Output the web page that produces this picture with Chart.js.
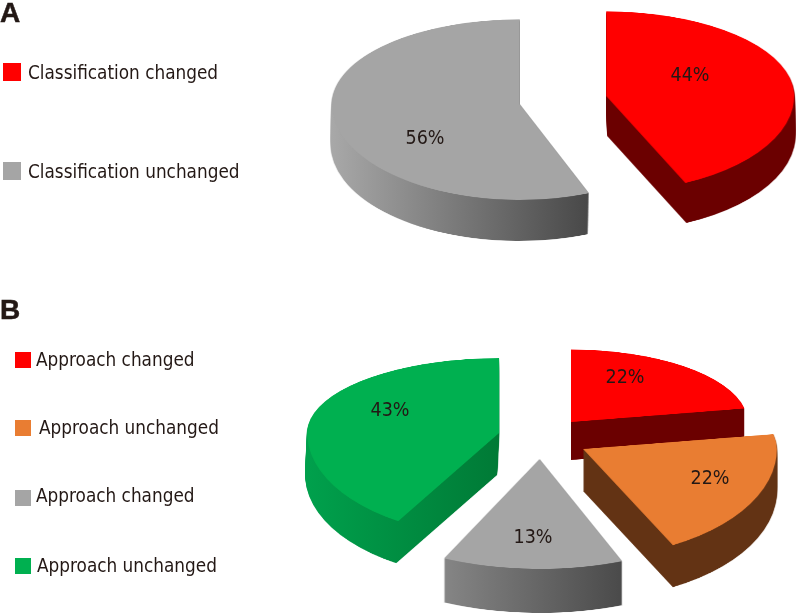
<!DOCTYPE html>
<html>
<head>
<meta charset="utf-8">
<script src="https://cdn.jsdelivr.net/npm/chart.js@4/dist/chart.umd.min.js"></script>
<style>
  html, body { margin: 0; padding: 0; background: #fff; }
  #page { position: relative; width: 800px; height: 614px; overflow: hidden; color: #231815; }
  canvas { position: absolute; left: 0; }
  .panel { position: absolute; font: bold 28px "Liberation Sans", sans-serif; line-height: 28px; -webkit-text-stroke: 0.5px #231815; }
  .swatch { position: absolute; }
  .lbl { position: absolute; white-space: nowrap; font: 18.8px "DejaVu Sans Condensed", "DejaVu Sans", sans-serif; line-height: 22px; }
</style>
</head>
<body>
<div id="page">
  <canvas id="pieA"></canvas>
  <canvas id="pieB"></canvas>
</div>
<script>
// data, chart A
const labelsA = ['Classification changed', 'Classification unchanged'];
const valuesA = [44, 56];
const colorsA = ['#ff0000', '#a5a5a5'];
const wallsA  = [['#6b0000', '#6b0000'], ['#a8a8a8', '#484848']];

// data, chart B
const labelsB = ['Approach changed', 'Approach unchanged', 'Approach changed', 'Approach unchanged'];
const valuesB = [22, 22, 13, 43];
const colorsB = ['#ff0000', '#e97d32', '#a5a5a5', '#00b050'];
const wallsB  = [['#6b0000', '#6b0000'], ['#633314', '#633314'], ['#848484', '#4a4a4a'], ['#00a04c', '#007a36']];

function offscreen(w, h) {
  const c = document.createElement('canvas');
  c.width = w;
  c.height = h;
  return c;
}

// each arc element is drawn flat on a scratch canvas, then squashed
// (back half and front half separately) and pushed down to make the side wall
const pie3d = {
  id: 'pie3d',
  beforeDatasetsDraw(chart, args, o) {
    const ctx = chart.ctx;
    const arcs = chart.getDatasetMeta(0).data;
    const W = chart.width, H = chart.height;

    o.order.forEach(function(i) {
      const arc = arcs[i];
      const s = o.scale[i];
      const r = arc.outerRadius * s;
      const R = Math.ceil(r) + 2;
      const mid = (arc.startAngle + arc.endAngle) / 2;
      const tb = o.tiltBack[i], tf = o.tiltFront[i];

      // the tilted view pulls the front edges a little off their true angle
      const start0 = arc.startAngle, end0 = arc.endAngle, circ0 = arc.circumference;
      arc.startAngle = start0 + o.edgeTweak[i][0] * Math.PI / 180;
      arc.endAngle = end0 + o.edgeTweak[i][1] * Math.PI / 180;
      arc.circumference = arc.endAngle - arc.startAngle;
      const flat = offscreen(2 * R, 2 * R);
      const fctx = flat.getContext('2d');
      fctx.translate(R, R);
      fctx.scale(s, s);
      fctx.translate(-arc.x, -arc.y);
      arc.draw(fctx);

      const dirY = Math.sin(mid);
      const ax = arc.x + Math.cos(mid) * o.explode[i];
      const ay = Math.round(arc.y + dirY * o.explode[i] * (dirY < 0 ? o.spread[0] : o.spread[1]));

      // top face
      const face = offscreen(W, H);
      const fc = face.getContext('2d');
      fc.drawImage(flat, 0, 0, 2 * R, R, ax - R, ay - R * tb, 2 * R, R * tb);
      fc.drawImage(flat, 0, R, 2 * R, R, ax - R, ay, 2 * R, R * tf);

      // horizontal extent of the slice, for the side gradient
      let minX = 0, maxX = 0;
      for (let a = arc.startAngle; a <= arc.endAngle; a += 0.02) {
        minX = Math.min(minX, Math.cos(a) * r);
        maxX = Math.max(maxX, Math.cos(a) * r);
      }
      arc.startAngle = start0;
      arc.endAngle = end0;
      arc.circumference = circ0;

      // side wall: the face pushed down, then recoloured
      const wall = offscreen(W, H);
      const wc = wall.getContext('2d');
      const depth = o.depth[i];
      for (let d = depth; d >= 1; d--) {
        wc.drawImage(face, o.wallShift[i] * d / depth, d);
      }
      const grad = wc.createLinearGradient(ax + minX, 0, ax + maxX, 0);
      grad.addColorStop(0, o.walls[i][0]);
      grad.addColorStop(1, o.walls[i][1]);
      wc.globalCompositeOperation = 'source-in';
      wc.fillStyle = grad;
      wc.fillRect(0, 0, W, H);

      ctx.drawImage(wall, 0, 0);
      ctx.drawImage(face, 0, 0);
    });
    return false;
  },
  afterDraw(chart, args, o) {
    const ctx = chart.ctx;
    const values = chart.data.datasets[0].data;
    ctx.save();
    ctx.fillStyle = '#231815';
    ctx.font = '19.5px "DejaVu Sans Condensed", "DejaVu Sans", sans-serif';
    ctx.textAlign = 'center';
    ctx.textBaseline = 'middle';
    values.forEach(function(v, i) {
      ctx.fillText(v + '%', o.labelAt[i][0], o.labelAt[i][1]);
    });
    ctx.restore();
  }
};

function makePie(id, top, height, padding, radius, labels, values, colors, pieOpts) {
  const canvas = document.getElementById(id);
  canvas.style.top = top + 'px';
  canvas.style.width = '800px';
  canvas.style.height = height + 'px';
  canvas.width = 800;
  canvas.height = height;
  return new Chart(canvas.getContext('2d'), {
    type: 'pie',
    data: {
      labels: labels,
      datasets: [{ data: values, backgroundColor: colors, borderWidth: 0 }]
    },
    options: {
      responsive: false,
      animation: false,
      radius: radius,
      layout: { padding: padding },
      plugins: {
        legend: { display: false },
        tooltip: { enabled: false },
        pie3d: pieOpts
      }
    },
    plugins: [pie3d]
  });
}

makePie('pieA', 0, 270, { left: 326, bottom: 70 }, 188, labelsA, valuesA, colorsA, {
  tiltBack: [0.45, 0.45], tiltFront: [0.51, 0.51],
  spread: [0.45, 0.5],
  depth: [40, 41],
  order: [0, 1],
  explode: [44, 44],
  scale: [1, 1],
  edgeTweak: [[0, -3.3], [0, 0]],
  wallShift: [1, -1],
  walls: wallsA,
  labelAt: [[690, 76], [425, 139]]
});

makePie('pieB', 270, 344, { left: 282, bottom: 10 }, 190, labelsB, valuesB, colorsB, {
  tiltBack: [0.41, 0.41, 0.41, 0.39], tiltFront: [0.5, 0.56, 0.49, 0.54],
  spread: [0.41, 0.5],
  depth: [38, 42, 44, 42],
  order: [0, 3, 2, 1],
  explode: [47, 48, 44, 43],
  scale: [0.93, 1.02, 1.18, 1.01],
  edgeTweak: [[0, 0], [0, -6], [0, 0], [6.5, 0]],
  wallShift: [0, 0, 0, -2],
  walls: wallsB,
  labelAt: [[625, 108], [710, 209], [533, 268], [390, 141]]
});

// panel letters and legends
const page = document.getElementById('page');
function addText(cls, text, x, y) {
  const el = document.createElement('div');
  el.className = cls;
  el.textContent = text;
  el.style.left = x + 'px';
  el.style.top = y + 'px';
  page.appendChild(el);
}
function addSwatch(color, x, y, size) {
  const el = document.createElement('div');
  el.className = 'swatch';
  el.style.cssText = 'left:' + x + 'px;top:' + y + 'px;width:' + size + 'px;height:' + size + 'px;background:' + color;
  page.appendChild(el);
}

addText('panel', 'A', 0, -1);
addText('panel', 'B', 0, 296);

const legendARows = [[3, 63, 28, 62], [3, 162, 28, 161]];
labelsA.forEach(function(t, i) {
  const r = legendARows[i];
  addSwatch(colorsA[i], r[0], r[1], 18);
  addText('lbl', t, r[2], r[3]);
});

const legendBRows = [[15, 352, 36, 349], [15, 420, 39, 417], [15, 490, 36, 485], [15, 558, 37, 555]];
labelsB.forEach(function(t, i) {
  const r = legendBRows[i];
  addSwatch(colorsB[i], r[0], r[1], 16);
  addText('lbl', t, r[2], r[3]);
});
</script>
</body>
</html>
